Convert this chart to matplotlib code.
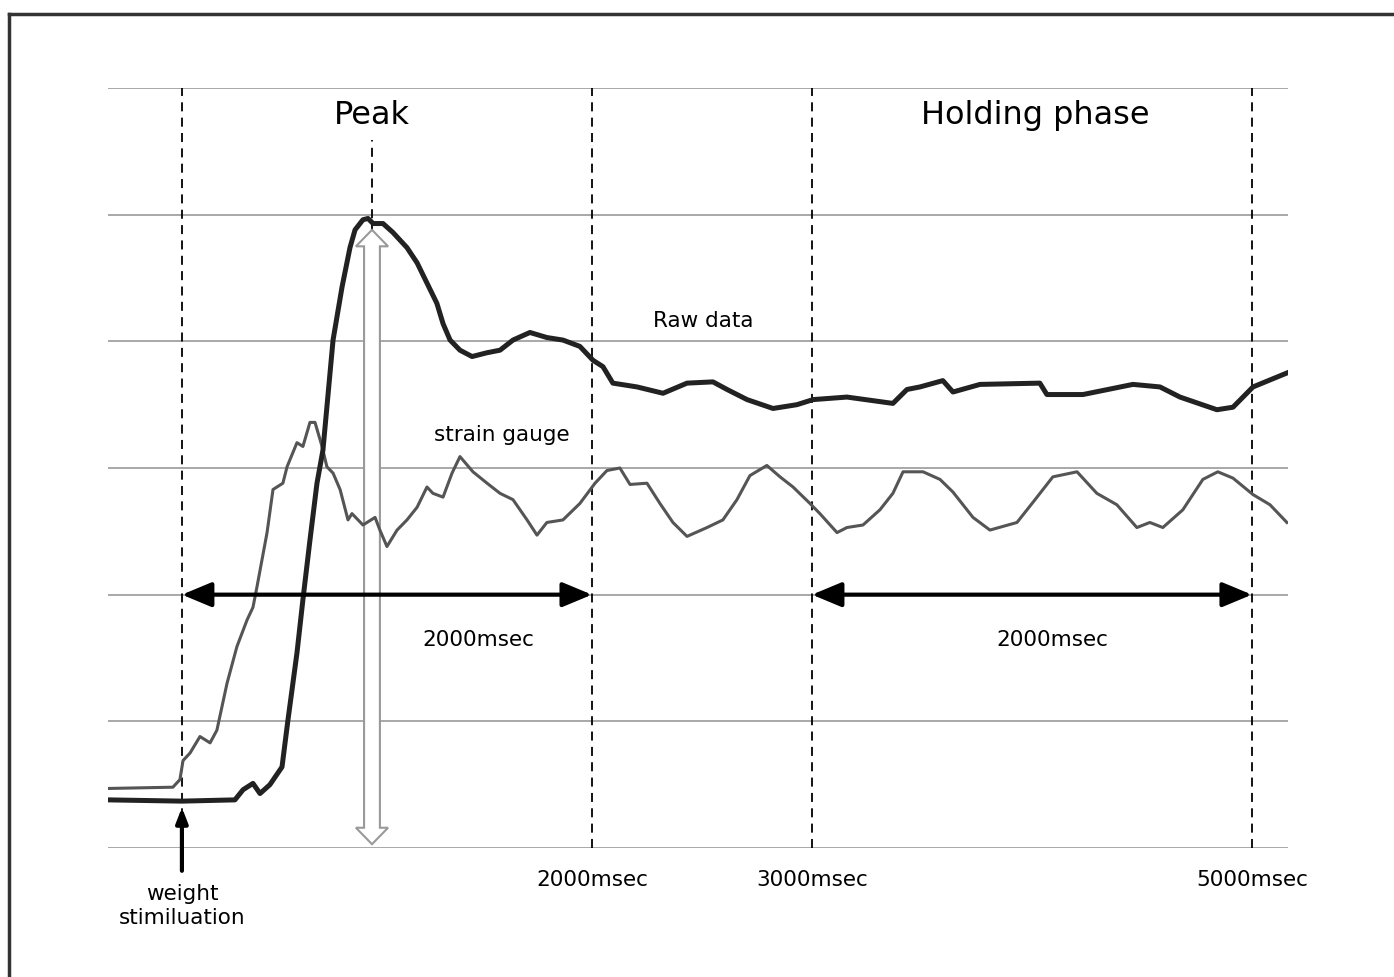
import matplotlib
matplotlib.use('Agg')
import matplotlib.pyplot as plt
from matplotlib.patches import Polygon, FancyArrowPatch
from matplotlib.lines import Line2D

plt.rcParams['font.family'] = ['DejaVu Sans']

# 시간(ms)과 신호값 (격자 한 칸 = 1)
raw_t = [-200, 136, 377, 414, 459, 491, 536, 591, 618, 659, 686, 718, 750, 777,
         823, 864, 900, 923, 959, 982, 1005, 1050, 1095, 1159, 1205, 1250, 1295,
         1323, 1355, 1400, 1455, 1523, 1582, 1641, 1718, 1795, 1868, 1945, 2005,
         2050, 2095, 2205, 2323, 2432, 2550, 2614, 2705, 2823, 2932, 3005, 3159,
         3368, 3432, 3491, 3595, 3641, 3764, 4036, 4068, 4232, 4459, 4582, 4673,
         4841, 4914, 5005, 5159]
raw_v = [0.38, 0.37, 0.38, 0.46, 0.51, 0.43, 0.50, 0.64, 1.01, 1.54, 1.96, 2.43,
         2.88, 3.14, 4.01, 4.43, 4.74, 4.88, 4.96, 4.97, 4.93, 4.93, 4.86, 4.74,
         4.62, 4.46, 4.30, 4.14, 4.01, 3.93, 3.88, 3.91, 3.93, 4.01, 4.07, 4.03,
         4.01, 3.96, 3.85, 3.80, 3.67, 3.64, 3.59, 3.67, 3.68, 3.62, 3.54, 3.47,
         3.50, 3.54, 3.56, 3.51, 3.62, 3.64, 3.69, 3.60, 3.66, 3.67, 3.58, 3.58,
         3.66, 3.64, 3.56, 3.46, 3.48, 3.64, 3.75]

strain_t = [-200, 95, 127, 141, 173, 218, 264, 295, 341, 386, 432, 459, 477, 523,
            550, 595, 614, 659, 686, 718, 741, 773, 795, 823, 855, 891, 909, 959,
            1014, 1036, 1068, 1114, 1159, 1205, 1250, 1277, 1323, 1364, 1400, 1459,
            1523, 1582, 1641, 1705, 1750, 1795, 1868, 1945, 2014, 2068, 2127, 2173,
            2250, 2309, 2368, 2432, 2523, 2595, 2659, 2718, 2795, 2855, 2914, 2991,
            3036, 3114, 3159, 3232, 3309, 3368, 3414, 3505, 3582, 3641, 3732, 3809,
            3932, 4005, 4095, 4205, 4295, 4386, 4477, 4536, 4595, 4686, 4777, 4845,
            4914, 5005, 5082, 5159]
strain_v = [0.47, 0.48, 0.54, 0.69, 0.75, 0.88, 0.83, 0.93, 1.30, 1.59, 1.80, 1.90,
            2.06, 2.49, 2.83, 2.88, 3.01, 3.20, 3.17, 3.36, 3.36, 3.17, 3.01, 2.96,
            2.83, 2.59, 2.64, 2.55, 2.61, 2.51, 2.38, 2.51, 2.59, 2.69, 2.85, 2.80,
            2.77, 2.96, 3.09, 2.97, 2.88, 2.80, 2.75, 2.59, 2.47, 2.57, 2.59, 2.72,
            2.88, 2.98, 3.00, 2.87, 2.88, 2.72, 2.57, 2.46, 2.53, 2.59, 2.75, 2.94,
            3.02, 2.93, 2.85, 2.72, 2.64, 2.49, 2.53, 2.55, 2.67, 2.80, 2.97, 2.97,
            2.91, 2.81, 2.61, 2.51, 2.57, 2.73, 2.93, 2.97, 2.80, 2.71, 2.53, 2.57,
            2.53, 2.67, 2.91, 2.97, 2.92, 2.79, 2.71, 2.57]

grid_levels = [0, 1, 2, 3, 4, 5, 6]
stim_t = 136
peak_t = 1000
marks_t = [2000, 3000, 5000]
mark_labels = ['2000msec', '3000msec', '5000msec']

fig = plt.figure(figsize=(13.94, 9.77), dpi=100)
ax = fig.add_axes([108 / 1394, 1 - 848 / 977, 1180 / 1394, 760 / 977])
ax.set_xlim(-200, 5164)
ax.set_ylim(0, 6)
ax.axis('off')

# 바깥 테두리 (왼쪽, 위쪽)
fig.add_artist(Line2D([9 / 1394, 9 / 1394], [0, 1 - 14 / 977],
                      color='#333333', lw=2.5, transform=fig.transFigure))
fig.add_artist(Line2D([9 / 1394, 1], [1 - 14 / 977, 1 - 14 / 977],
                      color='#333333', lw=2.5, transform=fig.transFigure))

for g in grid_levels:
    ax.axhline(g, color='#9a9a9a', lw=1.2, zorder=1)

for xv in [stim_t] + marks_t:
    ax.axvline(xv, color='black', lw=1.3, ls=(0, (5, 3.5)), zorder=2)
ax.plot([peak_t, peak_t], [4.0, 5.59], color='black', lw=1.3, ls=(0, (5, 3.5)), zorder=2)

# 속이 빈 양방향 화살표
hw, hh, hl = 36, 73, 0.13
top, bot = 4.88, 0.03
arrow = Polygon([(peak_t, top), (peak_t + hh, top - hl), (peak_t + hw, top - hl),
                 (peak_t + hw, bot + hl), (peak_t + hh, bot + hl), (peak_t, bot),
                 (peak_t - hh, bot + hl), (peak_t - hw, bot + hl),
                 (peak_t - hw, top - hl), (peak_t - hh, top - hl)],
                closed=True, facecolor='white', edgecolor='#999999', lw=1.5, zorder=3)
ax.add_patch(arrow)

ax.plot(strain_t, strain_v, color='#555555', lw=2.2, zorder=4)
ax.plot(raw_t, raw_v, color='#222222', lw=3.6, zorder=5)

# 2000msec 구간 화살표
for x0, x1 in [(stim_t, 2000), (3000, 5000)]:
    ax.add_patch(FancyArrowPatch((x0, 2.0), (x1, 2.0),
                                 arrowstyle='<|-|>,head_length=12,head_width=5',
                                 mutation_scale=1.5, color='black', lw=3,
                                 shrinkA=0, shrinkB=0, zorder=6))
ax.text(1482, 1.64, '2000msec', ha='center', va='center', fontsize=15.5)
ax.text(4091, 1.64, '2000msec', ha='center', va='center', fontsize=15.5)

# 자극 화살표
ax.annotate('', xy=(stim_t, 0.32), xytext=(stim_t, -0.18),
            arrowprops=dict(arrowstyle='-|>,head_length=0.9,head_width=0.35', color='black', lw=3,
                            shrinkA=0, shrinkB=0), annotation_clip=False, zorder=6)
ax.text(stim_t, -0.46, 'weight\nstimiluation', ha='center', va='center', fontsize=15.5,
        linespacing=1.25)

for xv, lab in zip(marks_t, mark_labels):
    ax.text(xv, -0.25, lab, ha='center', va='center', fontsize=15.5)

ax.text(peak_t, 5.78, 'Peak', ha='center', va='center', fontsize=23)
ax.text(4014, 5.78, 'Holding phase', ha='center', va='center', fontsize=23)
ax.text(2505, 4.16, 'Raw data', ha='center', va='center', fontsize=15.5)
ax.text(1591, 3.26, 'strain gauge', ha='center', va='center', fontsize=15.5)

fig.savefig('out.png', dpi=100)
